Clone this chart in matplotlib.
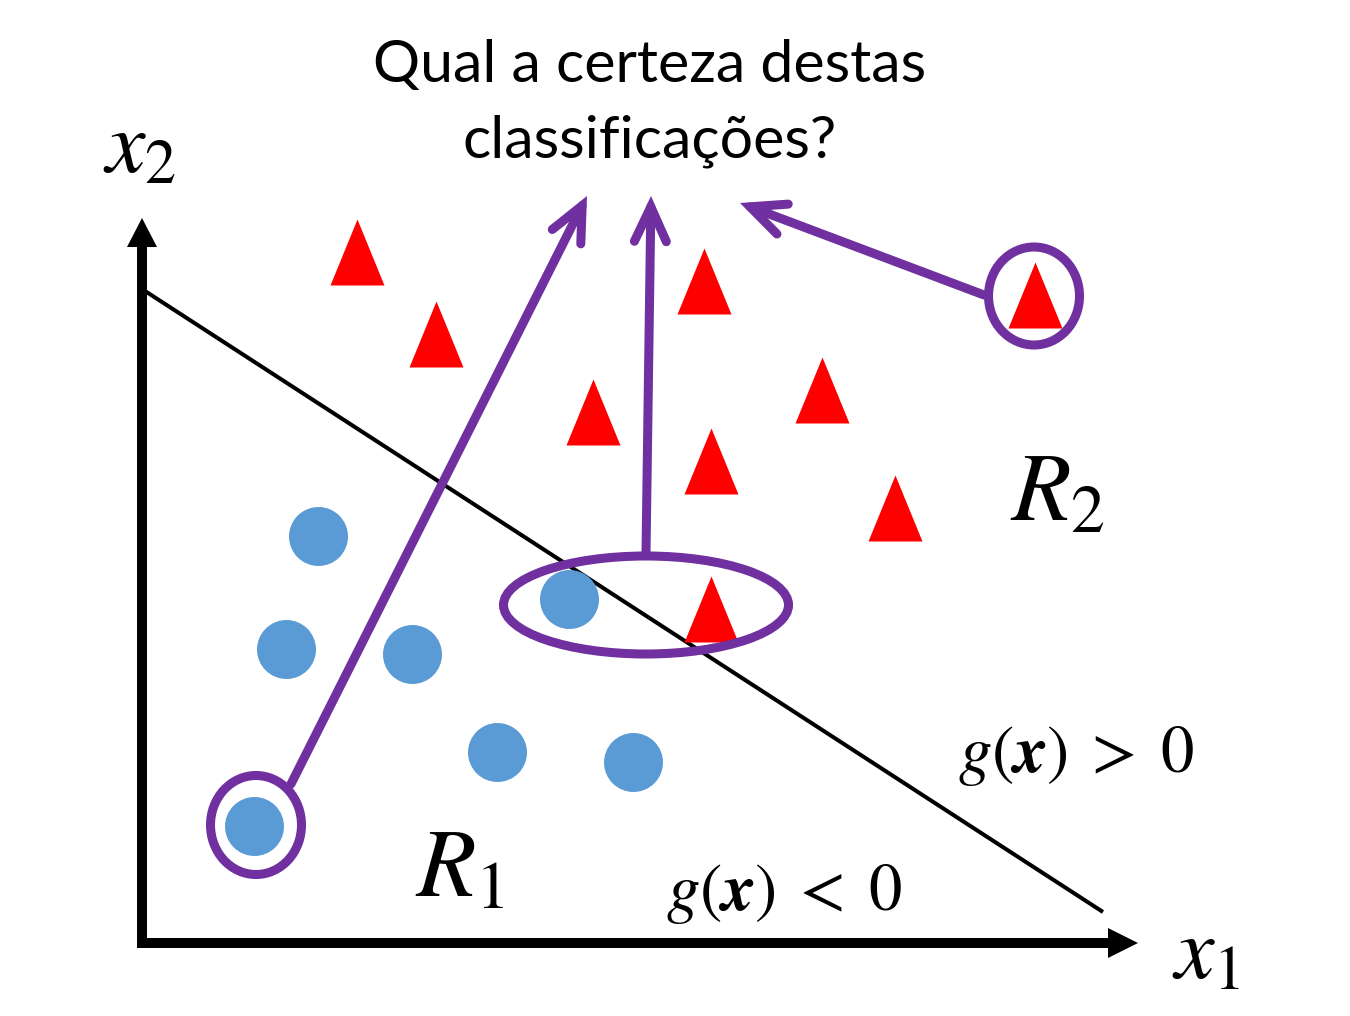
import matplotlib
matplotlib.use("Agg")
import matplotlib.pyplot as plt
from matplotlib.patches import Ellipse, FancyArrowPatch

plt.rcParams['mathtext.fontset'] = 'stix'

# pontos da classe 1 (circulos azuis) - coordenadas em pixels da figura
circle_x = [318, 286, 412, 569, 497, 633, 254]
circle_y = [536, 649, 654, 599, 752, 762, 826]

# pontos da classe 2 (triangulos vermelhos)
tri_x = [357, 436, 704, 593, 822, 711, 895, 711, 1035]
tri_y = [252, 334, 281, 412, 390, 461, 508, 609, 295]

# fronteira de decisao g(x) = 0
boundary_x = [145, 1103]
boundary_y = [291, 912]

# elipses de destaque
hl_x = [256, 646, 1034]
hl_y = [825, 605, 296]
hl_w = [91, 285, 91]
hl_h = [99, 98, 98]

# setas para a pergunta
arrow_from = [(291, 784), (646, 553), (984, 295)]
arrow_to = [(587, 196), (651, 196), (740, 203)]

purple = "#7030A0"
blue = "#5B9BD5"
red = "#FF0000"

fig = plt.figure(figsize=(13.5, 10.16), dpi=100)
ax = fig.add_axes([0, 0, 1, 1])
ax.set_xlim(0, 1350)
ax.set_ylim(1016, 0)
ax.axis("off")

# eixos
ax.arrow(142, 948, 0, 218 - 948, width=10, head_width=30, head_length=29,
         length_includes_head=True, color="black", lw=0, zorder=6)
ax.arrow(137, 943, 1138 - 137, 0, width=10, head_width=30, head_length=30,
         length_includes_head=True, color="black", lw=0, zorder=6)

ax.plot(boundary_x, boundary_y, color="black", lw=2.9, solid_capstyle="butt", zorder=2)

tri_marker = [(-27, -33), (27, -33), (0, 33)]
ax.scatter(tri_x, tri_y, marker=tri_marker, s=(66 * 0.72) ** 2, color=red,
           linewidths=0, zorder=2.5)
ax.scatter(circle_x, circle_y, marker="o", s=(59 * 0.72) ** 2, color=blue,
           linewidths=0, zorder=3)

for cx, cy, w, h in zip(hl_x, hl_y, hl_w, hl_h):
    ax.add_patch(Ellipse((cx, cy), w, h, fill=False, ec=purple, lw=6.5, zorder=4))

for p0, p1 in zip(arrow_from, arrow_to):
    arr = FancyArrowPatch(p0, p1, arrowstyle="->,head_length=2.5,head_width=1.15",
                          mutation_scale=10, color=purple, lw=6.5,
                          shrinkA=0, shrinkB=0, capstyle="round",
                          joinstyle="miter", zorder=4)
    ax.add_patch(arr)

ax.text(650, 82, "Qual a certeza destas", family="Lato", fontsize=42.5,
        ha="center", va="baseline")
ax.text(650, 157, "classificações?", family="Lato", fontsize=42.5,
        ha="center", va="baseline")

ax.text(103, 172, r"$x_2$", fontsize=64, ha="left", va="baseline")
ax.text(1172, 978, r"$x_1$", fontsize=64, ha="left", va="baseline")
ax.text(1010, 520, r"$R_2$", fontsize=70, ha="left", va="baseline")
ax.text(415, 896, r"$R_1$", fontsize=70, ha="left", va="baseline")
ax.text(958, 772, r"$g(\boldsymbol{x})\;>\;0$", fontsize=48, ha="left", va="baseline")
ax.text(666, 910, r"$g(\boldsymbol{x})\;<\;0$", fontsize=48, ha="left", va="baseline")

fig.savefig("out.png", dpi=100, facecolor="white")
